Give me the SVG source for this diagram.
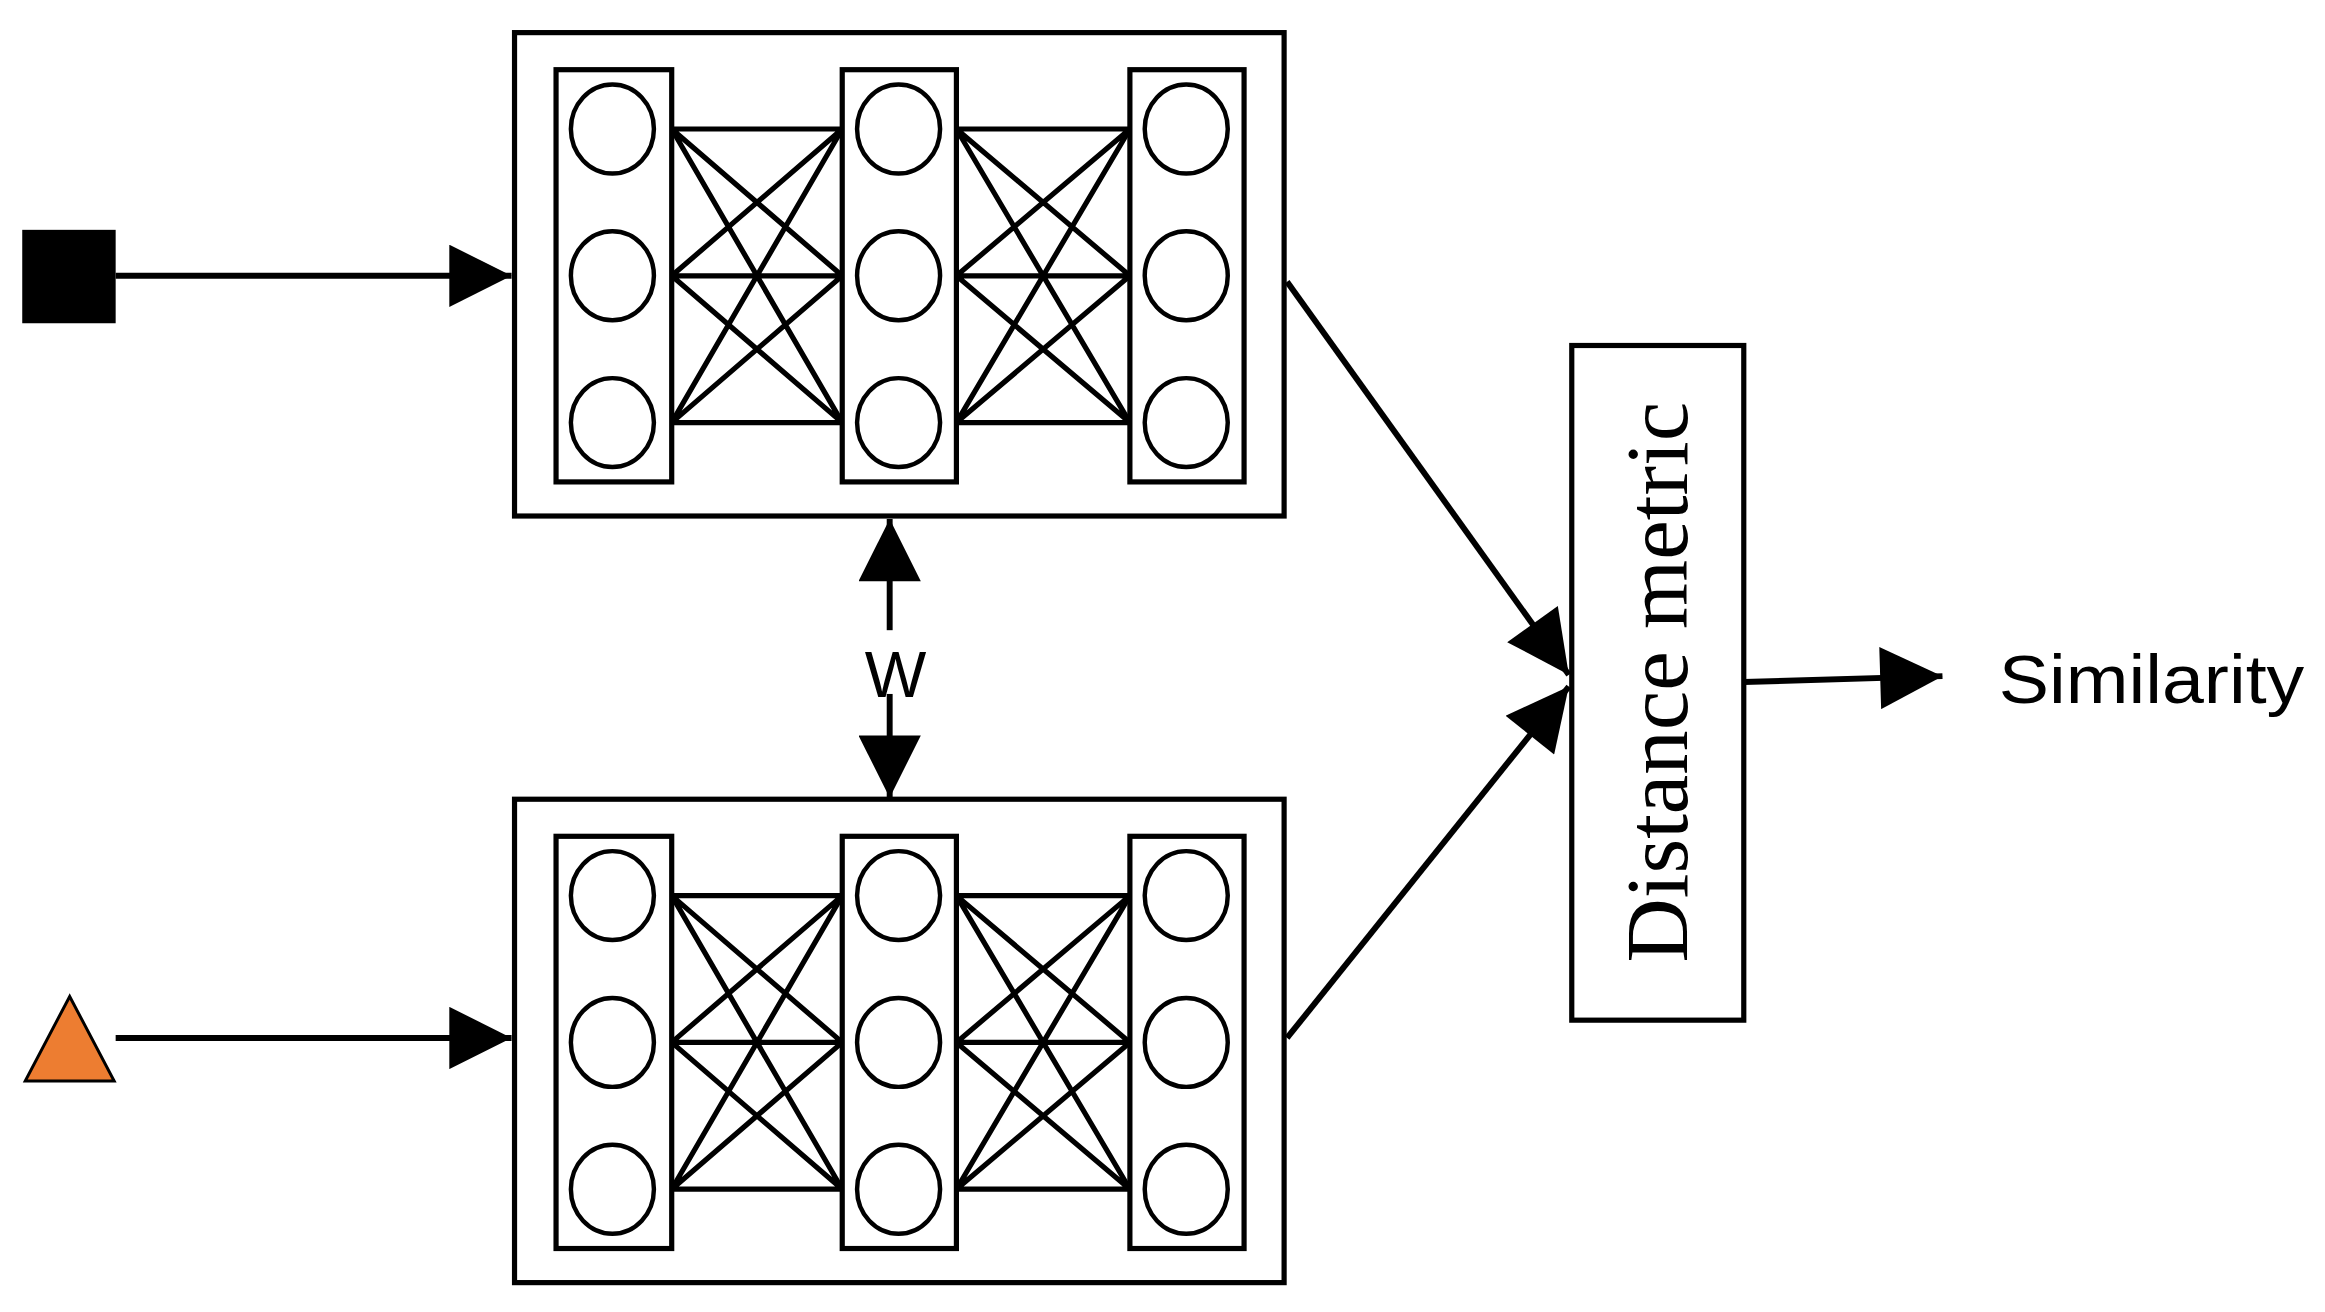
<svg xmlns="http://www.w3.org/2000/svg" width="2325" height="1312" viewBox="0 0 2325 1312">
<style>
.box{fill:#fff;stroke:#000;stroke-width:3.5}
.col{fill:#fff;stroke:#000;stroke-width:3.5}
.n{fill:#fff;stroke:#000;stroke-width:3}
.e{stroke:#000;stroke-width:3.5}
.c{stroke:#000;stroke-width:4;fill:none}
</style>
<defs>
<marker id="ah" viewBox="0 0 10 10" refX="10" refY="5" markerWidth="44" markerHeight="42" markerUnits="userSpaceOnUse" orient="auto-start-reverse"><path d="M0,0 L10,5 L0,10 z" fill="#000"/></marker>
<g id="net">
<rect class="box" x="347" y="0" width="519" height="326"/>
<g class="e">
<path d="M453,65H568M453,164H568M453,263H568M453,65L568,164M453,65L568,263M453,164L568,65M453,164L568,263M453,263L568,65M453,263L568,164"/>
<path d="M645,65H762M645,164H762M645,263H762M645,65L762,164M645,65L762,263M645,164L762,65M645,164L762,263M645,263L762,65M645,263L762,164"/>
</g>
<rect class="col" x="375" y="25" width="78" height="278"/>
<rect class="col" x="568" y="25" width="77" height="278"/>
<rect class="col" x="762" y="25" width="77" height="278"/>
<ellipse class="n" cx="413" cy="65" rx="28" ry="30"/><ellipse class="n" cx="413" cy="164" rx="28" ry="30"/><ellipse class="n" cx="413" cy="263" rx="28" ry="30"/>
<ellipse class="n" cx="606" cy="65" rx="28" ry="30"/><ellipse class="n" cx="606" cy="164" rx="28" ry="30"/><ellipse class="n" cx="606" cy="263" rx="28" ry="30"/>
<ellipse class="n" cx="800" cy="65" rx="28" ry="30"/><ellipse class="n" cx="800" cy="164" rx="28" ry="30"/><ellipse class="n" cx="800" cy="263" rx="28" ry="30"/>
</g>
</defs>
<rect width="2325" height="1312" fill="#fff"/>
<g transform="scale(1.4828)">
<g id="net-top"><use href="#net" y="22"/></g>
<g id="net-bottom"><use href="#net" y="539"/></g>
<g id="input-square"><rect x="15" y="155" width="63" height="63" fill="#000"/></g>
<g id="input-triangle"><polygon points="47,672 17,729 77,729" fill="#ED7D31" stroke="#000" stroke-width="2"/></g>
<g id="distance"><rect class="box" x="1060" y="233" width="116" height="455"/>
<text transform="translate(1138,460) rotate(-90)" text-anchor="middle" font-family="Liberation Serif, serif" font-size="60">Distance metric</text></g>
<g id="similarity"><text x="1348" y="474" font-family="Liberation Sans, Arial, sans-serif" font-size="46" textLength="206" lengthAdjust="spacingAndGlyphs">Similarity</text></g>
<g id="connectors">
<line class="c" x1="78" y1="186" x2="345" y2="186" marker-end="url(#ah)"/>
<line class="c" x1="78" y1="700" x2="345" y2="700" marker-end="url(#ah)"/>
<line class="c" x1="600" y1="425" x2="600" y2="350" marker-end="url(#ah)"/>
<line class="c" x1="600" y1="468" x2="600" y2="538" marker-end="url(#ah)"/>
<line class="c" x1="868" y1="190" x2="1058" y2="455" marker-end="url(#ah)"/>
<line class="c" x1="868" y1="700" x2="1058" y2="463" marker-end="url(#ah)"/>
<line class="c" x1="1176" y1="460" x2="1310" y2="456" marker-end="url(#ah)"/>
</g>
<text x="604" y="470" text-anchor="middle" font-family="Liberation Sans, Arial, sans-serif" font-size="44">W</text>
</g>
</svg>
